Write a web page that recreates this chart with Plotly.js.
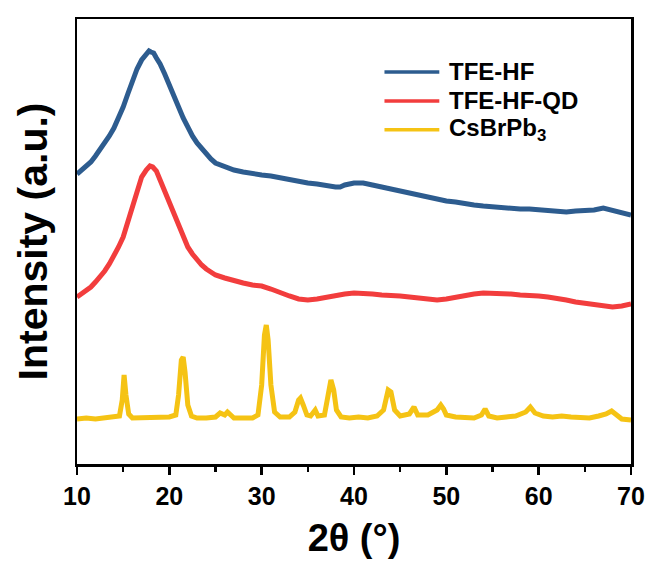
<!DOCTYPE html>
<html>
<head>
<meta charset="utf-8">
<script src="https://cdn.plot.ly/plotly-3.0.1.min.js"></script>
<style>
  html, body { margin: 0; padding: 0; background: #ffffff; }
  #plot { width: 653px; height: 567px; }
</style>
</head>
<body>
<div id="plot"></div>
<script>
// XRD patterns, stacked with vertical offsets (arbitrary units)

// TFE-HF film
const tfeHfTheta = [10, 10.5, 11, 11.5, 12, 12.5, 13, 13.5, 14, 14.5, 15, 15.5, 16, 16.5, 17, 17.5, 17.8, 18, 18.3, 18.6, 19, 19.5, 20, 20.5, 21, 21.5, 22, 22.5, 23, 23.5, 24, 24.5, 25, 25.5, 26, 27, 28, 29, 30, 31, 32, 33, 34, 35, 36, 37, 38, 38.5, 39, 40, 41, 42, 43, 44, 45, 46, 47, 48, 49, 50, 51, 52, 53, 54, 55, 56, 57, 58, 59, 60, 61, 62, 63, 64, 65, 66, 67, 67.5, 68, 69, 70];
const tfeHfInt = [290, 294, 298, 302, 308, 314, 321, 328, 336, 346, 357, 370, 384, 395, 404, 410, 413, 412, 411, 406, 400, 390, 378, 367, 357, 346, 336, 328, 321, 315, 309, 305, 301, 299, 297, 294, 292, 290, 289, 288, 286, 284, 283, 281, 280, 278, 277, 277, 279, 281, 281, 279, 277, 274, 272, 270, 268, 266, 264, 263, 262, 260, 259, 258, 257, 257, 256, 255, 255, 254, 253, 252, 252, 253, 253, 254, 256, 255, 253, 251, 249];

// TFE-HF film loaded with quantum dots
const tfeHfQdTheta = [10, 10.5, 11, 11.5, 12, 12.5, 13, 13.5, 14, 14.5, 15, 15.5, 16, 16.5, 17, 17.5, 17.9, 18.2, 18.6, 19, 19.5, 20, 20.5, 21, 21.5, 22, 22.5, 23, 23.5, 24, 24.5, 25, 26, 27, 28, 29, 30, 31, 32, 33, 34, 35, 36, 37, 38, 39, 40, 41, 42, 43, 44, 45, 46, 47, 48, 49, 50, 51, 52, 53, 54, 55, 56, 57, 58, 59, 60, 61, 62, 63, 64, 65, 66, 67, 68, 69, 70];
const tfeHfQdInt = [167, 170, 174, 177, 182, 187, 193, 200, 208, 217, 227, 242, 259, 275, 287, 294, 298, 297, 293, 284, 273, 262, 251, 238, 227, 217, 210, 204, 199, 195, 192, 189, 186, 183, 181, 179, 178, 175, 171, 168, 165, 164, 165, 167, 168, 170, 171, 171, 170, 169, 169, 168, 167, 166, 165, 164, 165, 167, 169, 170, 171, 171, 171, 170, 169, 169, 168, 167, 166, 164, 162, 161, 159, 158, 157, 158, 160];

// CsBrPb3 reference powder
const csTheta = [10, 11, 12, 13, 14, 14.6, 14.9, 15.1, 15.3, 15.6, 16, 17, 18, 19, 20, 20.7, 21.0, 21.3, 21.5, 21.7, 22.0, 22.4, 23, 24, 25, 25.5, 26, 26.3, 26.7, 27, 28, 29, 29.6, 30.0, 30.3, 30.5, 30.7, 31.0, 31.4, 32, 33, 33.6, 34.0, 34.2, 34.5, 34.9, 35.3, 35.8, 36.1, 36.8, 37.2, 37.5, 37.8, 38.1, 38.6, 39.5, 40.5, 41.5, 42.5, 43.2, 43.7, 44.0, 44.4, 45, 46, 46.5, 46.9, 48, 49, 49.4, 49.7, 50, 51, 52, 53, 53.8, 54.2, 54.6, 55.5, 56.5, 57.5, 58.6, 59.1, 59.6, 60.5, 61.5, 62.5, 63.5, 64.5, 65.5, 66.5, 67.3, 67.9, 68.4, 69, 70];
const csInt = [45, 46, 45, 46, 47, 48, 64, 89, 69, 50, 46, 46, 46, 47, 47, 49, 69, 104, 107, 92, 59, 48, 46, 46, 47, 51, 49, 52, 48, 46, 46, 46, 49, 79, 129, 139, 124, 79, 52, 47, 47, 52, 64, 66, 59, 49, 48, 54, 48, 49, 69, 84, 74, 54, 47, 46, 47, 46, 48, 54, 74, 72, 54, 48, 50, 57, 49, 49, 54, 59, 55, 49, 47, 46, 46, 49, 55, 48, 46, 47, 48, 52, 57, 51, 48, 47, 48, 47, 47, 46, 48, 50, 53, 49, 45, 44];

const seriesNames = ['TFE-HF', 'TFE-HF-QD', 'CsBrPb<sub>3</sub>'];
const seriesColors = ['#2d5c8f', '#f23d3d', '#f5c314'];
const xTickVals = [10, 20, 30, 40, 50, 60, 70];

const FONT = 'Arial, "Liberation Sans", sans-serif';

const traces = [
  [tfeHfTheta, tfeHfInt],
  [tfeHfQdTheta, tfeHfQdInt],
  [csTheta, csInt]
].map(([x, y], i) => ({
  x: x, y: y,
  type: 'scatter', mode: 'lines',
  name: seriesNames[i],
  line: { color: seriesColors[i], width: 5 },
  showlegend: false,
  hoverinfo: 'skip'
}));

// Hand-placed legend: short line swatches plus bold labels
const legendX0 = 0.555, legendX1 = 0.654, legendTextX = 0.668;
const legendY = [0.881, 0.816, 0.751];
const shapes = legendY.map((yy, i) => ({
  type: 'line', xref: 'paper', yref: 'paper',
  x0: legendX0, x1: legendX1, y0: yy, y1: yy,
  line: { color: seriesColors[i], width: 3.5 }
}));
const annotations = legendY.map((yy, i) => ({
  xref: 'paper', yref: 'paper', x: legendTextX, y: yy,
  xanchor: 'left', yanchor: 'middle', showarrow: false,
  text: '<b>' + seriesNames[i] + '</b>',
  font: { family: FONT, size: 24, color: '#000000' }
}));

const layout = {
  width: 653, height: 567,
  margin: { l: 77, r: 22, t: 19, b: 103 },
  paper_bgcolor: '#ffffff', plot_bgcolor: '#ffffff',
  font: { family: FONT, color: '#000000' },
  xaxis: {
    range: [10, 70],
    tickvals: xTickVals,
    ticktext: xTickVals.map(v => '<b>' + v + '</b>'),
    ticks: 'outside', ticklen: 8, tickwidth: 2.5, tickcolor: '#000000',
    minor: { dtick: 5, ticks: 'outside', ticklen: 5, tickwidth: 2.5, tickcolor: '#000000' },
    tickfont: { family: FONT, size: 25, color: '#000000' },
    showline: true, linewidth: 2.5, linecolor: '#000000', mirror: true,
    showgrid: false, zeroline: false,
    title: { text: '<b>2θ (°)</b>', font: { family: FONT, size: 38, color: '#000000' }, standoff: 16 }
  },
  yaxis: {
    range: [0, 445],
    showticklabels: false, ticks: '',
    showline: true, linewidth: 2.5, linecolor: '#000000', mirror: true,
    showgrid: false, zeroline: false,
    title: { text: '<b>Intensity (a.u.)</b>', font: { family: FONT, size: 41, color: '#000000' }, standoff: 14 }
  },
  shapes: shapes,
  annotations: annotations,
  showlegend: false
};

Plotly.newPlot('plot', traces, layout, { displayModeBar: false, staticPlot: true });
</script>
</body>
</html>
